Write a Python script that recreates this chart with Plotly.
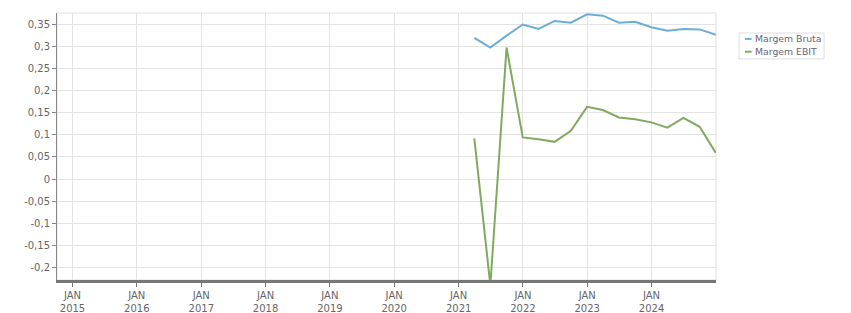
import plotly.graph_objects as go

dates = ["2021-03-31", "2021-06-30", "2021-09-30", "2021-12-31",
         "2022-03-31", "2022-06-30", "2022-09-30", "2022-12-31",
         "2023-03-31", "2023-06-30", "2023-09-30", "2023-12-31",
         "2024-03-31", "2024-06-30", "2024-09-30", "2024-12-31"]
margem_bruta = [0.319, 0.297, 0.324, 0.349, 0.339, 0.357, 0.353, 0.372,
                0.369, 0.353, 0.355, 0.343, 0.335, 0.339, 0.338, 0.326]
margem_ebit = [0.092, -0.24, 0.297, 0.094, 0.090, 0.084, 0.109, 0.163,
               0.156, 0.139, 0.135, 0.128, 0.116, 0.138, 0.118, 0.059]
series_names = ["Margem Bruta", "Margem EBIT"]
series_colors = ["#6aaed6", "#80aa60"]

x_tick_vals = [f"{y}-01-01" for y in range(2015, 2025)]
x_tick_text = [f"JAN<br>{y}" for y in range(2015, 2025)]
y_tick_vals = [0.35, 0.3, 0.25, 0.2, 0.15, 0.1, 0.05, 0, -0.05, -0.1, -0.15, -0.2]
y_tick_text = ["0,35", "0,3", "0,25", "0,2", "0,15", "0,1", "0,05", "0",
               "-0,05", "-0,1", "-0,15", "-0,2"]

font_family = "DejaVu Sans"
tick_color = "#666666"

fig = go.Figure()
for name, vals, col in zip(series_names, [margem_bruta, margem_ebit], series_colors):
    fig.add_trace(go.Scatter(x=dates, y=vals, mode="lines", name=name,
                             line=dict(color=col, width=2), showlegend=False))

# manual compact legend (paper coordinates)
shapes = [dict(type="rect", xref="paper", yref="paper", x0=0, x1=1, y0=0, y1=1,
               line=dict(color="#e0e0e0", width=1), layer="below"),
          dict(type="rect", xref="paper", yref="paper", x0=1.035, x1=1.164,
               y0=0.828, y1=0.925, line=dict(color="#dddddd", width=1),
               fillcolor="white")]
annotations = []
legend_rows = [0.903, 0.855]
for name, col, yy in zip(series_names, series_colors, legend_rows):
    shapes.append(dict(type="line", xref="paper", yref="paper", x0=1.044, x1=1.054,
                       y0=yy, y1=yy, line=dict(color=col, width=2)))
    annotations.append(dict(xref="paper", yref="paper", x=1.056, y=yy, text=name,
                            showarrow=False, xanchor="left", yanchor="middle",
                            font=dict(family=font_family, size=9.3, color="#667")))

fig.update_layout(
    width=851, height=313,
    margin=dict(l=57, r=135, t=13, b=33, autoexpand=False),
    plot_bgcolor="white", paper_bgcolor="white",
    font=dict(family=font_family, size=10, color=tick_color),
    showlegend=False,
    shapes=shapes, annotations=annotations,
)
fig.update_xaxes(
    type="date", range=["2014-10-05", "2025-01-01"],
    tickvals=x_tick_vals, ticktext=x_tick_text,
    showgrid=True, gridcolor="#e3e3e3", gridwidth=1,
    showline=True, linecolor="#777777", linewidth=2.5,
    ticks="outside", ticklen=4, tickcolor="#777777",
    tickfont=dict(size=10, color=tick_color), zeroline=False, automargin=False,
)
fig.update_yaxes(
    range=[-0.228, 0.375],
    tickvals=y_tick_vals, ticktext=y_tick_text,
    showgrid=True, gridcolor="#e3e3e3", gridwidth=1,
    showline=True, linecolor="#888888", linewidth=1,
    ticks="outside", ticklen=4, tickcolor="#888888",
    tickfont=dict(size=10, color=tick_color), zeroline=False, automargin=False,
)

fig.write_html("out.html")
